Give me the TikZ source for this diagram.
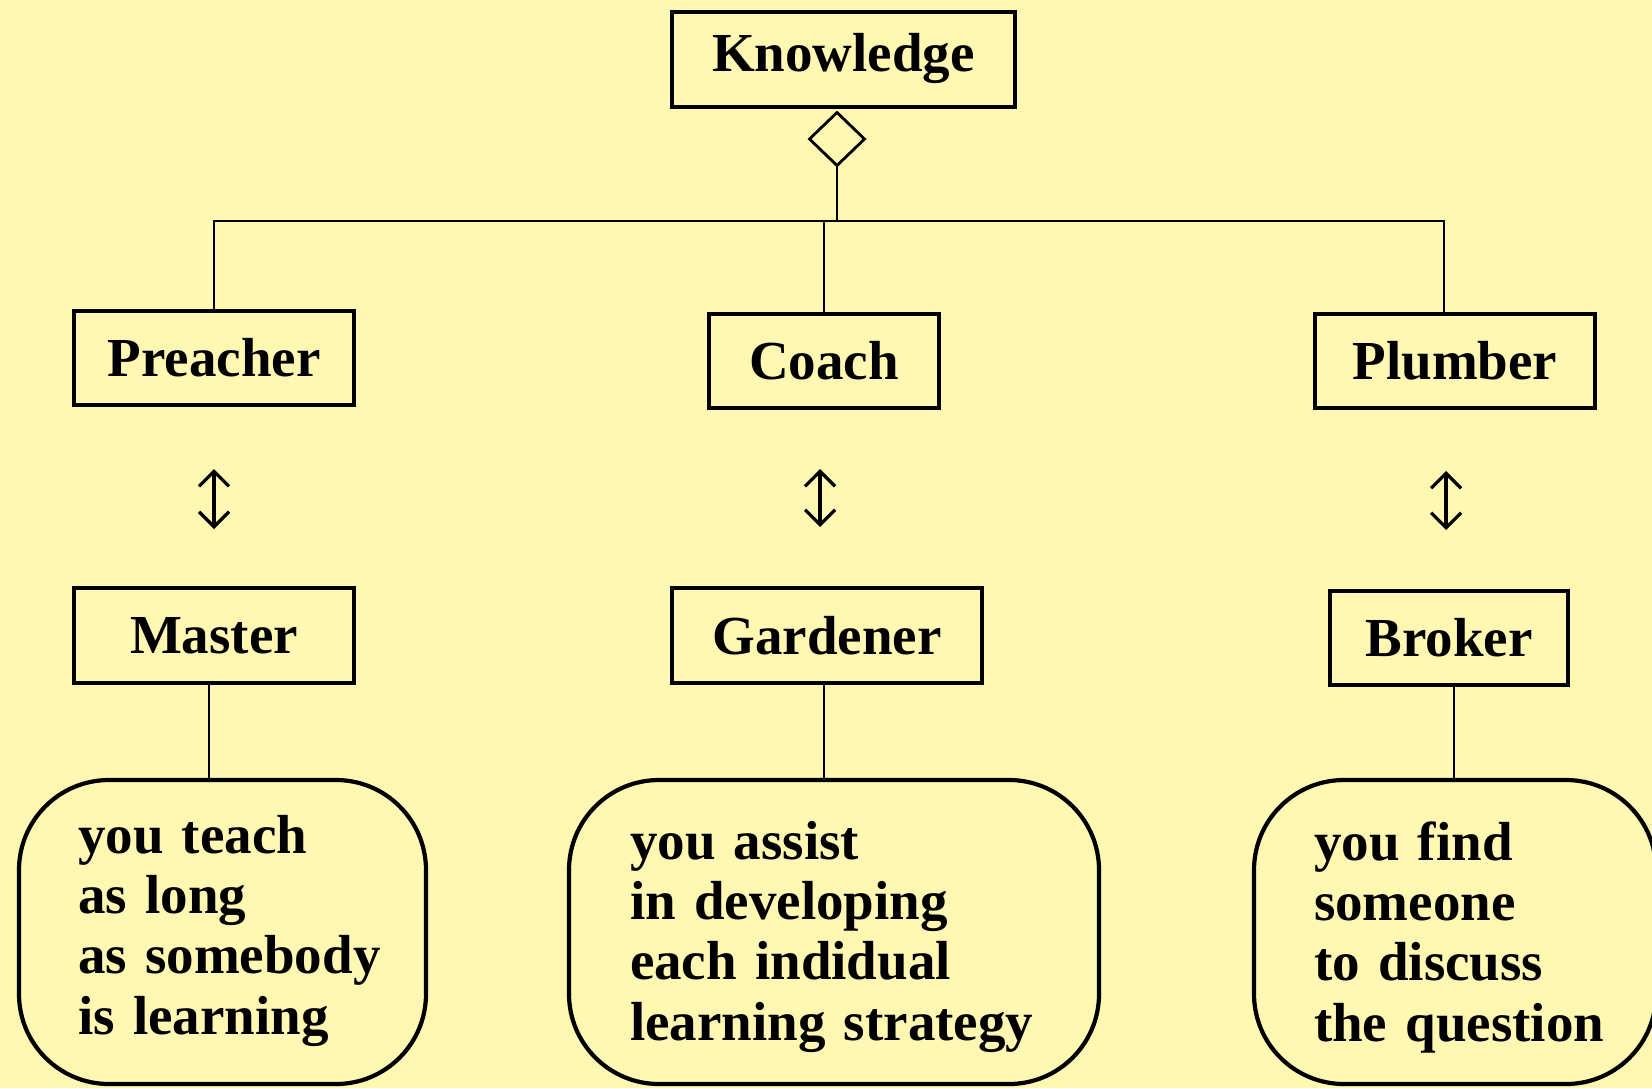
\documentclass[tikz,border=0pt]{standalone}
\usepackage{fontspec}
\setmainfont{Liberation Serif}
\usetikzlibrary{shapes.geometric,arrows.meta}
\definecolor{paper}{RGB}{255,247,178}
\begin{document}
\begin{tikzpicture}[x=0.5pt,y=-0.5pt,
  every node/.style={font=\bfseries\fontsize{27.5}{30.2}\selectfont, inner sep=0pt, outer sep=0pt},
  role/.style={draw, line width=2.2pt, rectangle},
  bubble/.style={draw, line width=2.1pt, rectangle, rounded corners=45pt},
  conn/.style={line width=1pt},
  swap/.style={line width=1.6pt, {Straight Barb[length=7.5pt,width=15pt]}-{Straight Barb[length=7.5pt,width=15pt]}},
  blurb/.style={anchor=base west, align=left, text width=260pt}
]
% page and background
\fill[paper] (0,0) rectangle (1652,1088);
\clip (0,0) rectangle (1652,1088);

% top of the hierarchy
\node[role, minimum width=171.5pt, minimum height=47.5pt, text depth=7pt] (knowledge) at (843.5,59.5) {Knowledge};
\node[draw, diamond, line width=1.4pt, minimum width=27.5pt, minimum height=26.5pt] (agg) at (837,139) {};
\coordinate (j) at (837,221);
\coordinate (jr) at (1444,221);

% the three roles
\node[role, minimum width=140pt, minimum height=47pt] (preacher) at (214,358) {Preacher};
\node[role, minimum width=115pt, minimum height=47pt] (coach) at (824,361) {Coach};
\node[role, minimum width=140pt, minimum height=47pt] (plumber) at (1455,361) {Plumber};

% their counterparts
\node[role, minimum width=140pt, minimum height=47.5pt] (master) at (214,635.5) {Master};
\node[role, minimum width=155pt, minimum height=47.5pt] (gardener) at (827,635.5) {Gardener};
\node[role, minimum width=119pt, minimum height=47pt] (broker) at (1449,638) {Broker};

% descriptions
\node[bubble, minimum width=203.5pt, minimum height=152pt] (bubL) at (222.5,932) {};
\node[bubble, minimum width=265pt, minimum height=152pt] (bubM) at (834,932) {};
\node[bubble, minimum width=201pt, minimum height=152pt] (bubR) at (1455,932) {};
\node[blurb] (txtL) at (78,853) {you teach\\as long\\as somebody\\is learning};
\node[blurb] (txtM) at (630,859) {you assist\\in developing\\each indidual\\learning strategy};
\node[blurb] (txtR) at (1314,860) {you find\\someone\\to discuss\\the question};

% aggregation tree
\draw[conn] (agg.south) -- (j);
\draw[conn] (preacher.north) |- (jr) -- ([xshift=-5.5pt]plumber.north);
\draw[conn] (coach.north) -- (coach.north |- j);

% two-way correspondences
\coordinate (a1t) at (214,469);  \coordinate (a1b) at (214,529);
\coordinate (a2t) at (820,469);  \coordinate (a2b) at (820,527);
\coordinate (a3t) at (1446,471); \coordinate (a3b) at (1446,530);
\draw[swap] (a1t) -- (a1b);
\draw[swap] (a2t) -- (a2b);
\draw[swap] (a3t) -- (a3b);

% links to the descriptions
\draw[conn] ([xshift=-2.5pt]master.south) -- ([xshift=-2.5pt]master.south |- bubL.north);
\draw[conn] ([xshift=-1.75pt]gardener.south) -- ([xshift=-1.75pt]gardener.south |- bubM.north);
\draw[conn] ([xshift=2.25pt]broker.south) -- ([xshift=2.25pt]broker.south |- bubR.north);
\end{tikzpicture}
\end{document}
